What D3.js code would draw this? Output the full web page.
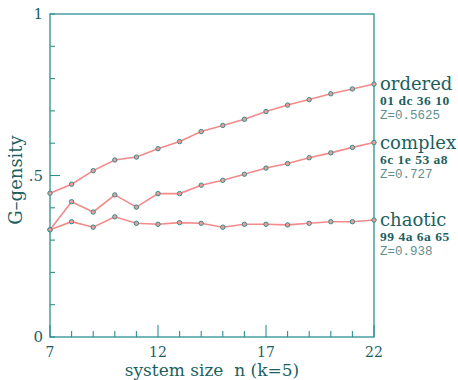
<!DOCTYPE html>
<html>
<head>
<meta charset="utf-8">
<script src="https://cdn.jsdelivr.net/npm/d3@7/dist/d3.min.js"></script>
<style>
  body { margin: 0; background: #fff; }
</style>
</head>
<body>
<svg id="chart" width="458" height="380"></svg>
<script>
// system size n
const sizes = [7, 8, 9, 10, 11, 12, 13, 14, 15, 16, 17, 18, 19, 20, 21, 22];
// G-density per rule
const ordered = [0.445, 0.473, 0.515, 0.548, 0.557, 0.583, 0.605, 0.636, 0.655, 0.674, 0.698, 0.718, 0.735, 0.753, 0.768, 0.783];
const complex = [0.332, 0.419, 0.387, 0.440, 0.402, 0.444, 0.444, 0.470, 0.485, 0.504, 0.523, 0.537, 0.555, 0.570, 0.587, 0.602];
const chaotic = [0.332, 0.357, 0.340, 0.372, 0.352, 0.349, 0.354, 0.352, 0.340, 0.349, 0.349, 0.347, 0.352, 0.357, 0.357, 0.362];
const seriesNames = ["ordered", "complex", "chaotic"];
const ruleCodes = ["01 dc 36 10", "6c 1e 53 a8", "99 4a 6a 65"];
const zValues = ["Z=0.5625", "Z=0.727", "Z=0.938"];
const xTickLabels = [7, 12, 17, 22];
const yTickLabels = [[0, "0"], [0.5, ".5"], [1, "1"]];

const teal = "#2f8f8f";
const textTeal = "#1d5f5f";
const lineRed = "#f48a8a";
const serif = "'DejaVu Serif', 'Liberation Serif', serif";
const mono = "'Liberation Mono', 'DejaVu Sans Mono', monospace";

const svg = d3.select("#chart");
const plotL = 50, plotR = 374, plotT = 14, plotB = 337;

const x = d3.scaleLinear().domain([7, 22]).range([plotL, plotR]);
const y = d3.scaleLinear().domain([0, 1]).range([plotB, plotT]);

// frame
svg.append("rect")
  .attr("x", plotL).attr("y", plotT)
  .attr("width", plotR - plotL).attr("height", plotB - plotT)
  .attr("fill", "none").attr("stroke", teal).attr("stroke-width", 1.3);

// y ticks every 0.1 (inward), longer at .5
const yTicks = d3.range(0, 11).map(d => d / 10);
svg.append("g").selectAll("line").data(yTicks).join("line")
  .attr("x1", plotL).attr("x2", d => plotL + (Math.abs(d - 0.5) < 1e-9 ? 10 : 5))
  .attr("y1", d => y(d)).attr("y2", d => y(d))
  .attr("stroke", teal).attr("stroke-width", 1.1);

// x ticks (inward), longer every 5
svg.append("g").selectAll("line").data(sizes).join("line")
  .attr("x1", d => x(d)).attr("x2", d => x(d))
  .attr("y1", plotB).attr("y2", d => plotB - ((d - 7) % 5 === 0 ? 12 : 6))
  .attr("stroke", teal).attr("stroke-width", 1.1);

// tick labels
svg.append("g").selectAll("text").data(xTickLabels).join("text")
  .attr("x", d => x(d)).attr("y", 357)
  .attr("text-anchor", "middle").attr("font-size", 14)
  .attr("font-family", serif)
  .attr("fill", textTeal).text(d => d);

svg.append("g").selectAll("text").data(yTickLabels).join("text")
  .attr("x", 43).attr("y", d => y(d[0]) + 5)
  .attr("text-anchor", "end").attr("font-size", 15)
  .attr("font-family", serif)
  .attr("fill", textTeal).text(d => d[1]);

// axis titles
svg.append("text")
  .attr("x", 212).attr("y", 376)
  .attr("text-anchor", "middle").attr("font-size", 17)
  .attr("font-family", serif)
  .attr("fill", textTeal).attr("xml:space", "preserve")
  .text("system size  n (k=5)");

svg.append("text")
  .attr("transform", "translate(22,180) rotate(-90)")
  .attr("text-anchor", "middle").attr("font-size", 18)
  .attr("font-family", serif)
  .attr("fill", textTeal).text("G\u2013gensity");

// series lines and points
const series = [ordered, complex, chaotic];
const line = d3.line().x((d, i) => x(sizes[i])).y(d => y(d));

series.forEach(vals => {
  svg.append("path").datum(vals)
    .attr("d", line).attr("fill", "none")
    .attr("stroke", lineRed).attr("stroke-width", 1.6);
  svg.append("g").selectAll("circle").data(vals).join("circle")
    .attr("cx", (d, i) => x(sizes[i])).attr("cy", d => y(d))
    .attr("r", 2.2).attr("fill", "#f29a9a")
    .attr("stroke", teal).attr("stroke-width", 1);
});

// series labels at right edge
series.forEach((vals, k) => {
  const yEnd = y(vals[vals.length - 1]);
  const g = svg.append("g");
  g.append("text").attr("x", 380).attr("y", yEnd + 6)
    .attr("font-size", 18).attr("font-family", serif)
    .attr("fill", textTeal).text(seriesNames[k]);
  g.append("text").attr("x", 380).attr("y", yEnd + 21)
    .attr("font-size", 13.5).attr("font-weight", "bold")
    .attr("letter-spacing", 0.5)
    .attr("font-family", "'Liberation Serif', serif")
    .attr("fill", textTeal).text(ruleCodes[k]);
  g.append("text").attr("x", 380).attr("y", yEnd + 35)
    .attr("font-size", 12.5).attr("font-family", mono)
    .attr("fill", "#5f9090").text(zValues[k]);
});
</script>
</body>
</html>
